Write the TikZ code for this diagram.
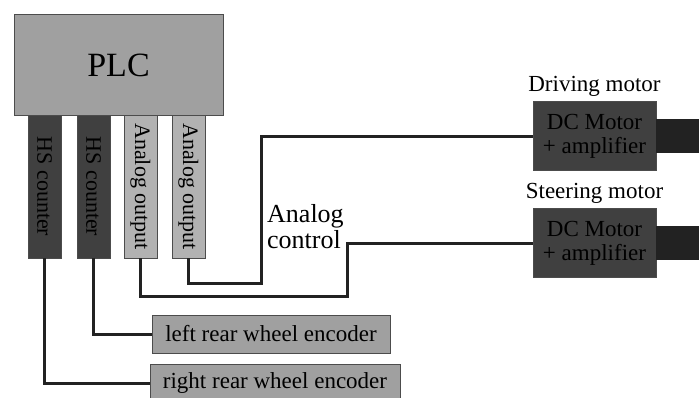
\documentclass[tikz,border=0pt]{standalone}
\usepackage{fontspec}
\setmainfont{Liberation Serif}
\usetikzlibrary{positioning}
\definecolor{plcgray}{HTML}{A0A0A0}
\definecolor{darkmod}{HTML}{404040}
\definecolor{lightmod}{HTML}{B2B2B2}
\definecolor{wire}{HTML}{222222}
\tikzset{
  caja/.style={draw=black!70, line width=0.8pt, inner sep=0pt, text=black},
  modulo/.style={caja, minimum width=33, minimum height=143, font=\fontsize{22}{23}\selectfont},
  encoder/.style={caja, fill=plcgray, minimum width=238, minimum height=38, font=\fontsize{23}{24}\selectfont},
  motor/.style={caja, fill=darkmod, minimum width=123, minimum height=69, align=center, font=\fontsize{23}{24}\selectfont},
  cable/.style={wire, line width=3pt}
}
\begin{document}
\begin{tikzpicture}[x=1pt, y=-1pt]
                \useasboundingbox (0,0) rectangle (699,397);
                % PLC
                \node[caja, fill=plcgray, minimum width=209, minimum height=101, font=\fontsize{34}{36}\selectfont] (plc) at (118.5,65) {PLC};

                % modulos
                \node[modulo, fill=darkmod] (hs1) at (44.5,186.5) {\rotatebox{-90}{HS counter}};
                \node[modulo, fill=darkmod] (hs2) at (93.5,186.5) {\rotatebox{-90}{HS counter}};
                \node[modulo, fill=lightmod] (ao1) at (140.5,186.5) {\rotatebox{-90}{Analog output}};
                \node[modulo, fill=lightmod] (ao2) at (188.5,186.5) {\rotatebox{-90}{Analog output}};

                % encoders
                \node[encoder] (encL) at (271,334) {left rear wheel encoder};
                \node[encoder, minimum width=250] (encR) at (275,383) {right rear wheel encoder};

                % motores
                \node[motor] (mot1) at (594.5,136) {DC Motor\\+ amplifier};
                \node[motor] (mot2) at (594.5,243) {DC Motor\\+ amplifier};
                \node[font=\fontsize{23}{24}\selectfont, above=1pt of mot1] (lbl1) {Driving motor};
                \node[font=\fontsize{23}{24}\selectfont, above=1pt of mot2] (lbl2) {Steering motor};
                \fill[wire] (mot1.east) ++(0,-17) rectangle (699,153);
                \fill[wire] (mot2.east) ++(0,-17) rectangle (699,260);

                \node[anchor=west, align=left, inner sep=0pt, font=\fontsize{26}{26}\selectfont] (ctrl) at (267,227) {Analog\\control};

                % cables
                \coordinate (bendA) at (347,296);
                \coordinate (bendB) at (261,283);
                \draw[cable] (hs1.south) |- (encR.west);
                \draw[cable] (hs2.south) |- (encL.west);
                \draw[cable] (ao1.south) |- (bendA) |- (mot2.west);
                \draw[cable] (ao2.south) |- (bendB) |- (mot1.west);
            \end{tikzpicture}
\end{document}
